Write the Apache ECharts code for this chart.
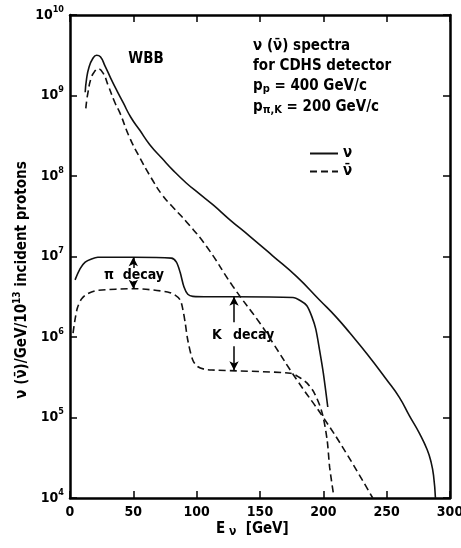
<!DOCTYPE html>
<html><head><meta charset="utf-8">
<script src="https://cdn.jsdelivr.net/npm/echarts@6/dist/echarts.min.js"></script>
<style>html,body{margin:0;padding:0;background:#fff}#c{width:461px;height:548px}</style>
</head><body><div id="c"></div>
<script>
// ν (WBB, solid) main spectrum
const nuE = [12,13,15,18,21,24,27.6,32,37,42,48,55,63,72.6,82,92,102,113,126,142,160,179,197,210,221,235,250,260,268,276,282,285,287,288.5];
const nuFlux = [1.10e9,1.58e9,2.24e9,2.88e9,3.16e9,3.02e9,2.34e9,1.66e9,1.15e9,8.13e8,5.37e8,3.72e8,2.45e8,1.66e8,1.15e8,8.13e7,6.03e7,4.37e7,2.88e7,1.78e7,1.02e7,5.62e6,2.88e6,1.78e6,1.12e6,6.03e5,2.95e5,1.78e5,1.05e5,6.31e4,3.98e4,2.82e4,1.91e4,1.00e4];
// ν̄ (WBB, dashed) main spectrum
const nubarE = [12.5,14,17,20,22,26,30,35.5,39.5,47,55,64,73,82,92,108,129,150,160,179,200,218,239];
const nubarFlux = [6.92e8,1.05e9,1.70e9,2.04e9,2.14e9,1.91e9,1.35e9,8.13e8,6.03e8,3.02e8,1.70e8,9.55e7,5.75e7,3.98e7,2.69e7,1.32e7,4.17e6,1.48e6,8.51e5,2.95e5,1.00e5,3.63e4,1.00e4];
// ν decay-model curve (solid)
const nuDecayE = [4,8,12,17,22,50,80,84,87,90,93,97,110,130,176,182,187,191,194,197,200,203.5];
const nuDecayFlux = [5.13e6,7.08e6,8.51e6,9.33e6,9.77e6,9.77e6,9.55e6,8.51e6,6.31e6,4.17e6,3.39e6,3.20e6,3.16e6,3.16e6,3.09e6,2.82e6,2.45e6,1.78e6,1.26e6,6.92e5,3.55e5,1.35e5];
// ν̄ decay-model curve (dashed)
const nubarDecayE = [2.4,4,6,9,12,17,22,50,77,83,87,89,91,93,97,101,106,112,174,181,187,193,199,203,205,208];
const nubarDecayFlux = [1.12e6,1.66e6,2.34e6,2.95e6,3.31e6,3.63e6,3.80e6,3.98e6,3.63e6,3.31e6,2.88e6,2.24e6,1.48e6,9.12e5,5.13e5,4.27e5,3.98e5,3.89e5,3.55e5,3.16e5,2.69e5,2.00e5,1.15e5,5.25e4,2.40e4,1.12e4];
// annotation arrows: [E, from, to]
const piArrowTop = [50, 9.77e6, 7.2e6];
const piArrowBottom = [50, 4.97e6, 3.98e6];
const kArrowTop = [129.5, 3.16e6, 1.53e6];
const kArrowBottom = [129.5, 7.7e5, 3.85e5];
// axis ticks
const xMin = 0, xMax = 300, xStep = 50;
const yMin = 1e4, yMax = 1e10;

const FONT = "'DejaVu Sans Condensed', 'DejaVu Sans', sans-serif";
const pair = (xs, ys) => xs.map((x, i) => [x, ys[i]]);
const solid = {color:'#111', width:1.6, type:'solid'};
const dashed = {color:'#111', width:1.6, type:[7,4]};
const axisLineStyle = {color:'#000', width:2.5};
const tickCfg = {inside:true, length:7, lineStyle:{color:'#000', width:1.5}};
const richBase = {fontFamily:FONT, fontWeight:'bold', color:'#000', fill:'#000'};

function arrow(a, endSym){
  return [{coord:[a[0], a[1]], symbol: endSym ? 'arrow' : 'none'}, {coord:[a[0], a[2]], symbol: endSym ? 'none' : 'arrow'}];
}

const chart = echarts.init(document.getElementById('c'), null, {renderer:'canvas'});
const option = {
  animation:false,
  backgroundColor:'#fff',
  grid:{left:70, right:11, top:15, bottom:50, containLabel:false, outerBoundsMode:'none'},
  xAxis:[
    {type:'value', min:xMin, max:xMax, interval:xStep, position:'bottom',
     axisLine:{onZero:false, lineStyle:axisLineStyle}, axisTick:tickCfg,
     axisLabel:{color:'#000', fontFamily:FONT, fontWeight:'bold', fontSize:14, margin:7, hideOverlap:false},
     splitLine:{show:false}},
    {type:'value', min:xMin, max:xMax, interval:xStep, position:'top',
     axisLine:{onZero:false, lineStyle:axisLineStyle}, axisTick:tickCfg,
     axisLabel:{show:false}, splitLine:{show:false}}
  ],
  yAxis:[
    {type:'log', logBase:10, min:yMin, max:yMax, position:'left',
     axisLine:{show:true, onZero:false, lineStyle:axisLineStyle}, axisTick:{show:true, ...tickCfg},
     minorTick:{show:false}, splitLine:{show:false},
     axisLabel:{margin:6, formatter: v => '{b|10}{s|' + Math.round(Math.log10(v)) + '}',
       rich:{b:{...richBase, fontSize:14, lineHeight:20, verticalAlign:'middle'},
             s:{...richBase, fontSize:9, lineHeight:8, verticalAlign:'top'}}}},
    {type:'log', logBase:10, min:yMin, max:yMax, position:'right',
     axisLine:{show:true, onZero:false, lineStyle:axisLineStyle}, axisTick:{show:true, ...tickCfg},
     minorTick:{show:false}, splitLine:{show:false}, axisLabel:{show:false}}
  ],
  legend:{data:['ν','ν̄'], orient:'vertical', left:304, top:141, itemWidth:28, itemHeight:12, itemGap:3,
    itemStyle:{opacity:0},
    textStyle:{fontFamily:FONT, fontWeight:'bold', fontSize:15, color:'#000'}},
  graphic:[
    {type:'text', x:22, y:280, rotation:Math.PI/2, style:{text:'{a|ν (ν̄)/GeV/10}{s|13}{a| incident protons}', align:'center', verticalAlign:'middle',
      rich:{a:{...richBase, fontSize:15, lineHeight:20, verticalAlign:'middle'}, s:{...richBase, fontSize:10, lineHeight:8, verticalAlign:'top'}}}},
    {type:'text', x:146, y:59, style:{text:'WBB', fill:'#000', font:"bold 15px " + FONT, align:'center', verticalAlign:'middle'}},
    {type:'text', x:253, y:46, style:{text:'ν (ν̄) spectra', fill:'#000', font:"bold 15px " + FONT, align:'left', verticalAlign:'middle'}},
    {type:'text', x:253, y:66, style:{text:'for CDHS detector', fill:'#000', font:"bold 15px " + FONT, align:'left', verticalAlign:'middle'}},
    {type:'text', x:253, y:86, style:{text:'{a|p}{s|p}{a| = 400 GeV/c}', align:'left', verticalAlign:'middle',
      rich:{a:{...richBase, fontSize:15, lineHeight:18, verticalAlign:'middle'}, s:{...richBase, fontSize:11, lineHeight:8, verticalAlign:'bottom'}}}},
    {type:'text', x:253, y:107, style:{text:'{a|p}{s|π,K}{a| = 200 GeV/c}', align:'left', verticalAlign:'middle',
      rich:{a:{...richBase, fontSize:15, lineHeight:18, verticalAlign:'middle'}, s:{...richBase, fontSize:11, lineHeight:8, verticalAlign:'bottom'}}}},
    {type:'text', x:104, y:275, style:{text:'π  decay', fill:'#000', font:"bold 14px " + FONT, align:'left', verticalAlign:'middle'}},
    {type:'text', x:217, y:335, style:{text:'K', fill:'#000', font:"bold 14px " + FONT, align:'center', verticalAlign:'middle'}},
    {type:'text', x:233, y:335, style:{text:'decay', fill:'#000', font:"bold 14px " + FONT, align:'left', verticalAlign:'middle'}},
    {type:'text', x:216, y:529, style:{text:'{a|E}{s| ν}{a|  [GeV]}', align:'left', verticalAlign:'middle',
      rich:{a:{...richBase, fontSize:15, lineHeight:18, verticalAlign:'middle'}, s:{...richBase, fontSize:12, lineHeight:8, verticalAlign:'bottom'}}}}
  ],
  series:[
    {name:'ν', type:'line', data:pair(nuE, nuFlux), symbol:'none', smooth:0.5, lineStyle:solid, itemStyle:{color:'#111'}},
    {name:'ν̄', type:'line', data:pair(nubarE, nubarFlux), symbol:'none', smooth:0.5, lineStyle:dashed, itemStyle:{color:'#111'}},
    {name:'ν decay', type:'line', data:pair(nuDecayE, nuDecayFlux), symbol:'none', smooth:0.3, lineStyle:solid, itemStyle:{color:'#111'},
     markLine:{silent:true, symbolSize:[7,9], label:{show:false}, lineStyle:{type:'solid', color:'#000', width:1.5},
       data:[arrow(piArrowTop, true), arrow(piArrowBottom, false), arrow(kArrowTop, true), arrow(kArrowBottom, false)]}},
    {name:'ν̄ decay', type:'line', data:pair(nubarDecayE, nubarDecayFlux), symbol:'none', smooth:0.3, lineStyle:dashed, itemStyle:{color:'#111'}}
  ]
};
chart.setOption(option);
</script></body></html>
